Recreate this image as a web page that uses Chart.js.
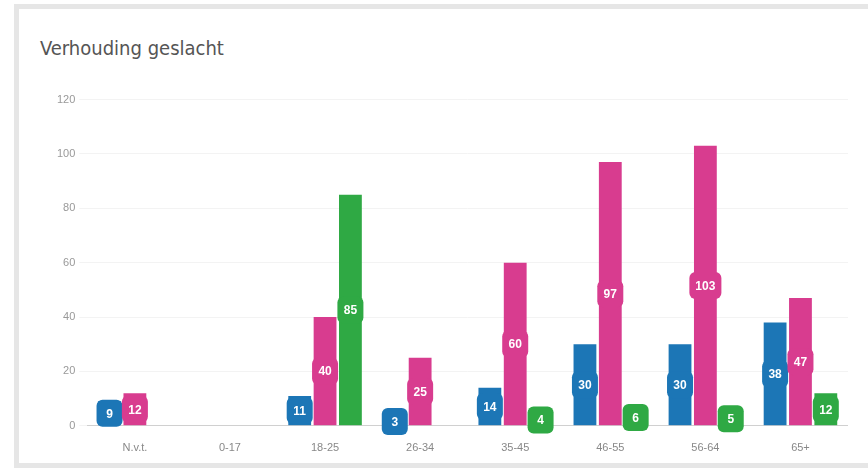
<!DOCTYPE html>
<html>
<head>
<meta charset="utf-8">
<script src="https://cdn.jsdelivr.net/npm/chart.js@4.4.0/dist/chart.umd.min.js"></script>
<style>
  html, body { margin: 0; padding: 0; background: #fff; overflow: hidden; }
  .card {
    position: absolute; left: 14px; top: 4px;
    width: 880px; height: 454px;
    border: 5px solid #e6e6e6; background: #fff;
  }
  .card h3 {
    position: absolute; left: 21px; top: 27px; margin: 0;
    font-family: "Liberation Sans Narrow", "DejaVu Sans Condensed", sans-serif;
    font-weight: normal; font-size: 20px; color: #555;
  }
  #chartWrap { position: absolute; left: 0; top: 80px; width: 829px; height: 374px; }
</style>
</head>
<body>
<div class="card">
  <h3>Verhouding geslacht</h3>
  <div id="chartWrap"><canvas id="chart"></canvas></div>
</div>
<script>
const categories = ['N.v.t.', '0-17', '18-25', '26-34', '35-45', '46-55', '56-64', '65+'];
const blueValues = [9, 0, 11, 3, 14, 30, 30, 38];
const pinkValues = [12, 0, 40, 25, 60, 97, 103, 47];
const greenValues = [0, 0, 85, 0, 4, 6, 5, 12];
const yTicks = [0, 20, 40, 60, 80, 100, 120];

const blue = '#1c76b6';
const pink = '#d83c8f';
const green = '#2fa944';

// draws the rounded value boxes in the middle of each bar
const barLabels = {
  id: 'barLabels',
  afterDatasetsDraw(chart) {
    const ctx = chart.ctx;
    ctx.save();
    ctx.font = 'bold 12px "Liberation Sans", Arial, sans-serif';
    ctx.textAlign = 'center';
    ctx.textBaseline = 'middle';
    chart.data.datasets.forEach((ds, i) => {
      const meta = chart.getDatasetMeta(i);
      meta.data.forEach((bar, j) => {
        const v = ds.data[j];
        if (!v) return;
        const cy = (bar.y + bar.base) / 2;
        const w = Math.max(ctx.measureText(v).width + 12, 26);
        const h = 27;
        ctx.fillStyle = ds.backgroundColor;
        ctx.beginPath();
        ctx.roundRect(bar.x - w / 2, cy - h / 2, w, h, 6);
        ctx.fill();
        ctx.fillStyle = '#fff';
        ctx.fillText(v, bar.x, cy + 1);
      });
    });
    ctx.restore();
  }
};

new Chart(document.getElementById('chart'), {
  type: 'bar',
  data: {
    labels: categories,
    datasets: [
      { label: 'Man', data: blueValues, backgroundColor: blue },
      { label: 'Vrouw', data: pinkValues, backgroundColor: pink },
      { label: 'Anders', data: greenValues, backgroundColor: green }
    ]
  },
  options: {
    responsive: true,
    maintainAspectRatio: false,
    animation: false,
    layout: { padding: { left: 34, right: 0, top: 10, bottom: 0 } },
    plugins: { legend: { display: false }, tooltip: { enabled: false } },
    scales: {
      x: {
        grid: { display: false },
        border: { color: '#d0d0d0' },
        ticks: { color: '#888', font: { size: 11, family: 'Arial, sans-serif' }, padding: 8 }
      },
      y: {
        min: 0, max: 120,
        afterBuildTicks: axis => { axis.ticks = yTicks.map(v => ({ value: v })); },
        grid: { color: '#f3f3f3', tickLength: 8 },
        border: { display: false },
        ticks: { color: '#999', font: { size: 11, family: 'Arial, sans-serif' }, padding: 4 }
      }
    }
  },
  plugins: [barLabels]
});
</script>
</body>
</html>
